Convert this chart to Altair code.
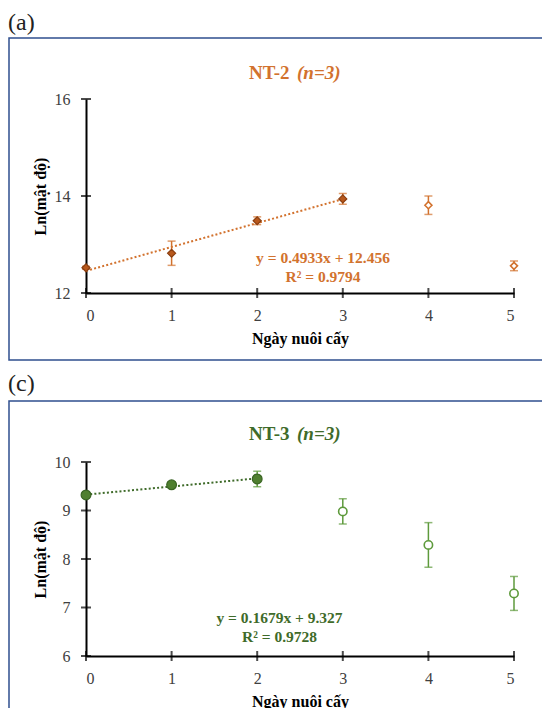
import altair as alt
import pandas as pd

# ---------------- data ----------------
days = [0, 1, 2, 3, 4, 5]

nt2_mean = [12.52, 12.82, 13.49, 13.94, 13.81, 12.56]
nt2_err = [0.03, 0.25, 0.08, 0.11, 0.19, 0.10]
nt2_filled = ["yes", "yes", "yes", "yes", "no", "no"]
nt2_trend_days = [0, 3]
nt2_slope, nt2_intercept = 0.4933, 12.456
nt2_eq = "y = 0.4933x + 12.456"
nt2_r2 = "R² = 0.9794"

nt3_mean = [9.32, 9.53, 9.65, 8.98, 8.29, 7.29]
nt3_err = [0.05, 0.05, 0.16, 0.26, 0.46, 0.35]
nt3_filled = ["yes", "yes", "yes", "no", "no", "no"]
nt3_trend_days = [0, 2]
nt3_slope, nt3_intercept = 0.1679, 9.327
nt3_eq = "y = 0.1679x + 9.327"
nt3_r2 = "R² = 0.9728"

x_ticks = [0, 1, 2, 3, 4, 5]
nt2_y_ticks = [12, 14, 16]
nt3_y_ticks = [6, 7, 8, 9, 10]

x_title = "Ngày nuôi cấy"
y_title = "Ln(mật độ)"

SERIF = "Liberation Serif"
W, H = 428, 557


def panel_df(mean, err, filled):
    return pd.DataFrame({
        "day": days,
        "mean": mean,
        "lo": [m - e for m, e in zip(mean, err)],
        "hi": [m + e for m, e in zip(mean, err)],
        "filled": filled,
    })


one = pd.DataFrame({"a": [0]})


def txt(text, x, y, size, color, weight="bold", style="normal", align="left", baseline="middle"):
    return alt.Chart(one).mark_text(
        text=text, font=SERIF, fontSize=size, fontWeight=weight, fontStyle=style,
        color=color, align=align, baseline=baseline,
    ).encode(x=alt.value(x), y=alt.value(y))


def make_panel(df, slope, intercept, trend_days, yticks, ydom, yrange, x_offset, shape,
               fill_col, edge_col, open_col, title_col, name, eq, r2, eq_x, eq_y, title_y,
               label, label_y, box_y, box_y2, filled_size, open_size):
    xscale = alt.Scale(domain=[0, 5], nice=False, zero=False)
    yscale = alt.Scale(domain=ydom, range=yrange, nice=False, zero=False)
    xaxis = alt.Axis(orient="bottom", offset=x_offset, values=x_ticks, title=x_title,
                     ticks=False, grid=False, domainColor="black", domainWidth=2,
                     labelFont=SERIF, labelFontSize=16, labelColor="#404040", labelPadding=14,
                     titleFont=SERIF, titleFontSize=16, titleFontWeight="bold",
                     titleColor="black", titlePadding=7, format="d")
    yaxis = alt.Axis(orient="left", values=yticks, title=y_title,
                     ticks=False, grid=False, domainColor="black", domainWidth=2,
                     labelFont=SERIF, labelFontSize=16, labelColor="#404040", labelPadding=16,
                     titleFont=SERIF, titleFontSize=16, titleFontWeight="bold",
                     titleColor="black", titlePadding=6, format="d")

    base = alt.Chart(df)
    X = alt.X("day:Q", scale=xscale, axis=xaxis)

    box = alt.Chart(one).mark_rect(fill="white", fillOpacity=0, stroke="#2F4F8F",
                                   strokeWidth=1.5).encode(
        x=alt.value(-77), x2=alt.value(475), y=alt.value(box_y), y2=alt.value(box_y2))

    xt = alt.Chart(pd.DataFrame({"t": x_ticks, "b": ydom[0]})).mark_tick(
        orient="vertical", size=10, thickness=2, color="black").encode(
        x=alt.X("t:Q", scale=xscale, axis=xaxis),
        y=alt.Y("b:Q", scale=yscale, axis=yaxis))
    yt = alt.Chart(pd.DataFrame({"t": yticks, "b": 0})).mark_tick(
        orient="horizontal", size=10, thickness=2, color="black").encode(
        x=alt.X("b:Q", scale=xscale, axis=xaxis),
        y=alt.Y("t:Q", scale=yscale, axis=yaxis))

    rule = base.mark_rule(color=open_col, strokeWidth=1.5).encode(
        x=X, y=alt.Y("lo:Q", scale=yscale, axis=yaxis), y2="hi:Q")
    cap_lo = base.mark_tick(orient="horizontal", size=8, thickness=1.5, color=open_col).encode(
        x=X, y=alt.Y("lo:Q", scale=yscale, axis=yaxis))
    cap_hi = base.mark_tick(orient="horizontal", size=8, thickness=1.5, color=open_col).encode(
        x=X, y=alt.Y("hi:Q", scale=yscale, axis=yaxis))

    trend = base.transform_filter(
        alt.FieldOneOfPredicate(field="day", oneOf=trend_days)
    ).transform_calculate(
        fit=f"{slope} * datum.day + {intercept}"
    ).mark_line(color=title_col, strokeWidth=2, strokeDash=[2, 2.2]).encode(
        x=X, y=alt.Y("fit:Q", scale=yscale, axis=yaxis))

    pts_f = base.transform_filter(alt.datum.filled == "yes").mark_point(
        shape=shape, filled=True, size=filled_size, fill=fill_col, stroke=edge_col,
        strokeWidth=1.2, opacity=1).encode(x=X, y=alt.Y("mean:Q", scale=yscale, axis=yaxis))
    pts_o = base.transform_filter(alt.datum.filled == "no").mark_point(
        shape=shape, filled=True, size=open_size, fill="white", stroke=open_col,
        strokeWidth=1.6, opacity=1).encode(x=X, y=alt.Y("mean:Q", scale=yscale, axis=yaxis))

    t1 = txt(name, 163, title_y, 19, title_col, baseline="alphabetic")
    t2 = txt("(n=3)", 211, title_y, 19, title_col, style="italic", baseline="alphabetic")
    e1 = txt(eq, eq_x, eq_y, 15.5, title_col, align="center")
    e2 = txt(r2, eq_x, eq_y + 18.5, 15.5, title_col, align="center")
    lab = txt(label, -78, label_y, 24, "#222222", weight="normal")

    return alt.layer(box, lab, t1, t2, e1, e2, rule, cap_lo, cap_hi, trend, pts_f, pts_o, xt, yt)


df2 = panel_df(nt2_mean, nt2_err, nt2_filled)
df3 = panel_df(nt3_mean, nt3_err, nt3_filled)

top = make_panel(df2, nt2_slope, nt2_intercept, nt2_trend_days, nt2_y_ticks, [12, 16],
                 [194, 0], 194 - H, "diamond",
                 "#B8581C", "#8A3E10", "#D2722E", "#D2722E", "NT-2", nt2_eq, nt2_r2,
                 237, 159, -20, "(a)", -76, -61, 261, 64, 49)
bottom = make_panel(df3, nt3_slope, nt3_intercept, nt3_trend_days, nt3_y_ticks, [6, 10],
                    [H, 363], 0, "circle",
                    "#4F7F2F", "#3A6424", "#5E9A3C", "#3F6B2A", "NT-3", nt3_eq, nt3_r2,
                    193.5, 519, 341, "(c)", 285, 302, 640, 95, 70)

chart = alt.layer(top, bottom).resolve_scale(x="independent", y="independent").properties(
    width=W, height=H,
    autosize=alt.AutoSizeParams(type="none"),
    padding={"left": 78, "top": 91, "right": 28, "bottom": 52},
).configure_view(strokeWidth=0).configure_axis(labelFont=SERIF, titleFont=SERIF)

chart.save("out.html", embed_options={"renderer": "svg", "actions": False})
